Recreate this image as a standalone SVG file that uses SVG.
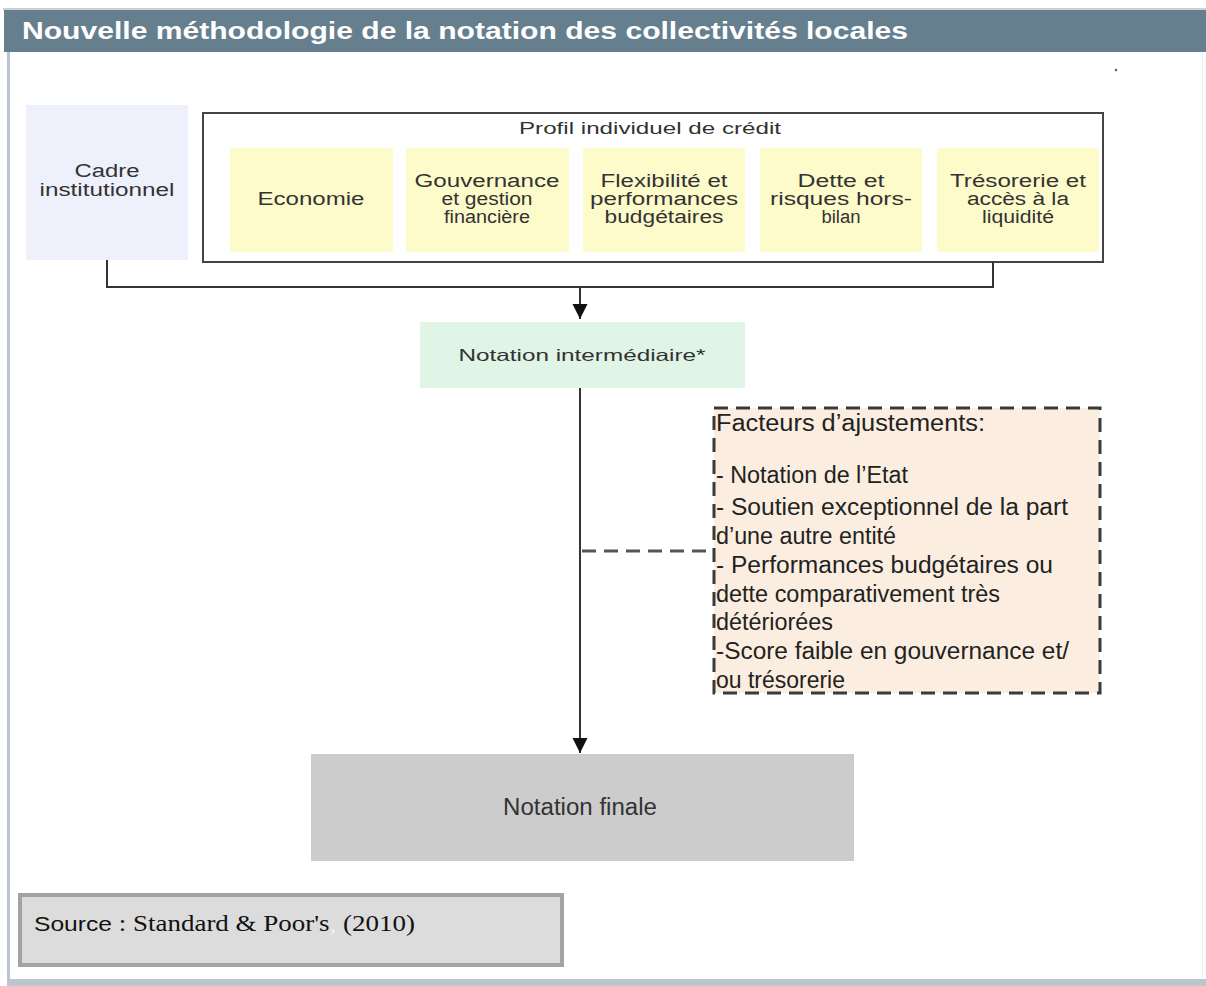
<svg xmlns="http://www.w3.org/2000/svg" width="1206" height="986" viewBox="0 0 1206 986">
<style>
.t{font-family:"Liberation Sans",Arial,sans-serif;fill:#333;text-anchor:middle}
.sm{font-size:18px}
.ft{font-family:"Liberation Sans",Arial,sans-serif;font-size:23px;fill:#222}
.ln{fill:none;stroke:#333;stroke-width:2}
.yb{fill:#fdfbca}
</style>
<defs>
<marker id="ah" viewBox="0 0 10 10" refX="10" refY="5" markerWidth="15" markerHeight="16" markerUnits="userSpaceOnUse" orient="auto">
<path d="M0,0 L10,5 L0,10 Z" fill="#111"/>
</marker>
</defs>
<rect x="0" y="0" width="1206" height="986" fill="#ffffff"/>
<g id="frame">
<rect x="3" y="8" width="1203" height="2" fill="#c9d0d6"/>
<rect x="4" y="10" width="1202" height="42" fill="#657f8f"/>
<rect x="7" y="52" width="3" height="930" fill="#bcc4cb"/>
<rect x="1202" y="52" width="1" height="930" fill="#eef2f4"/>
<rect x="7" y="979" width="1199" height="7" fill="#bcc6ce"/>
<circle cx="1116" cy="70" r="1.2" fill="#555"/>
<text x="22" y="39" font-family="Liberation Sans,Arial,sans-serif" font-size="23" font-weight="bold" fill="#ffffff" textLength="886" lengthAdjust="spacingAndGlyphs">Nouvelle méthodologie de la notation des collectivités locales</text>
</g>
<g id="cadre">
<rect x="26" y="105" width="162" height="155" fill="#eef0fc"/>
<text class="t sm" x="107" y="177" textLength="65" lengthAdjust="spacingAndGlyphs">Cadre</text>
<text class="t sm" x="107" y="196" textLength="135" lengthAdjust="spacingAndGlyphs">institutionnel</text>
</g>
<g id="profil">
<rect x="203" y="113" width="900" height="149" fill="#ffffff" stroke="#444" stroke-width="2"/>
<text class="t" font-size="16.5" x="650" y="134" textLength="262" lengthAdjust="spacingAndGlyphs">Profil individuel de crédit</text>
</g>
<g id="economie">
<rect class="yb" x="230" y="148" width="163" height="104"/>
<text class="t sm" x="311" y="205" textLength="107" lengthAdjust="spacingAndGlyphs">Economie</text>
</g>
<g id="gouvernance">
<rect class="yb" x="406" y="148" width="163" height="104"/>
<text class="t sm" x="487" y="187" textLength="145" lengthAdjust="spacingAndGlyphs">Gouvernance</text>
<text class="t sm" x="487" y="205" textLength="91" lengthAdjust="spacingAndGlyphs">et gestion</text>
<text class="t sm" x="487" y="223" textLength="86" lengthAdjust="spacingAndGlyphs">financière</text>
</g>
<g id="flexibilite">
<rect class="yb" x="583" y="148" width="162" height="104"/>
<text class="t sm" x="664" y="187" textLength="127" lengthAdjust="spacingAndGlyphs">Flexibilité et</text>
<text class="t sm" x="664" y="205" textLength="148" lengthAdjust="spacingAndGlyphs">performances</text>
<text class="t sm" x="664" y="223" textLength="119" lengthAdjust="spacingAndGlyphs">budgétaires</text>
</g>
<g id="dette">
<rect class="yb" x="760" y="148" width="162" height="104"/>
<text class="t sm" x="841" y="187" textLength="87" lengthAdjust="spacingAndGlyphs">Dette et</text>
<text class="t sm" x="841" y="205" textLength="142" lengthAdjust="spacingAndGlyphs">risques hors-</text>
<text class="t sm" x="841" y="223" textLength="39" lengthAdjust="spacingAndGlyphs">bilan</text>
</g>
<g id="tresorerie">
<rect class="yb" x="937" y="148" width="162" height="104"/>
<text class="t sm" x="1018" y="187" textLength="136" lengthAdjust="spacingAndGlyphs">Trésorerie et</text>
<text class="t sm" x="1018" y="205" textLength="102" lengthAdjust="spacingAndGlyphs">accès à la</text>
<text class="t sm" x="1018" y="223" textLength="72" lengthAdjust="spacingAndGlyphs">liquidité</text>
</g>
<g id="intermediaire">
<rect x="420" y="322" width="325" height="66" fill="#e0f5e6"/>
<text class="t" font-size="16.5" x="582" y="361" textLength="247" lengthAdjust="spacingAndGlyphs">Notation intermédiaire*</text>
</g>
<g id="ajustements">
<rect x="714" y="408" width="386" height="285" fill="#fbeee0" stroke="#3a3a3a" stroke-width="3" stroke-dasharray="14 8"/>
<text class="ft" x="716" y="431" textLength="269" lengthAdjust="spacingAndGlyphs">Facteurs d’ajustements:</text>
<text class="ft" x="716" y="483" textLength="192" lengthAdjust="spacingAndGlyphs">- Notation de l’Etat</text>
<text class="ft" x="716" y="515" textLength="352" lengthAdjust="spacingAndGlyphs">- Soutien exceptionnel de la part</text>
<text class="ft" x="716" y="544" textLength="180" lengthAdjust="spacingAndGlyphs">d’une autre entité</text>
<text class="ft" x="716" y="573" textLength="337" lengthAdjust="spacingAndGlyphs">- Performances budgétaires ou</text>
<text class="ft" x="716" y="602" textLength="284" lengthAdjust="spacingAndGlyphs">dette comparativement très</text>
<text class="ft" x="716" y="630" textLength="117" lengthAdjust="spacingAndGlyphs">détériorées</text>
<text class="ft" x="716" y="659" textLength="353" lengthAdjust="spacingAndGlyphs">-Score faible en gouvernance et/</text>
<text class="ft" x="716" y="688" textLength="129" lengthAdjust="spacingAndGlyphs">ou trésorerie</text>
</g>
<g id="finale">
<rect x="311" y="754" width="543" height="107" fill="#cccccc"/>
<text class="t" font-size="23" fill="#333" x="580" y="815" textLength="154" lengthAdjust="spacingAndGlyphs">Notation finale</text>
</g>
<g id="source">
<rect x="20" y="895" width="542" height="70" fill="#dcdcdc" stroke="#a3a3a3" stroke-width="4"/>
<text x="34" y="931" font-size="23" fill="#111" textLength="381" lengthAdjust="spacingAndGlyphs"><tspan font-family="Liberation Sans,Arial,sans-serif" font-size="21">Source</tspan><tspan font-family="Liberation Serif,Times New Roman,serif"> : Standard &amp; Poor's</tspan><tspan font-family="Liberation Serif,serif" fill="#eeeeee">,</tspan><tspan font-family="Liberation Serif,Times New Roman,serif">  (2010)</tspan></text>
</g>
<g id="connectors">
<path class="ln" d="M107,260 V287 H993 V262"/>
<path class="ln" d="M580,287 V319" marker-end="url(#ah)"/>
<path class="ln" d="M580,388 V753" marker-end="url(#ah)"/>
<path d="M582,551 H713" fill="none" stroke="#555" stroke-width="3" stroke-dasharray="14 8"/>
</g>
</svg>
